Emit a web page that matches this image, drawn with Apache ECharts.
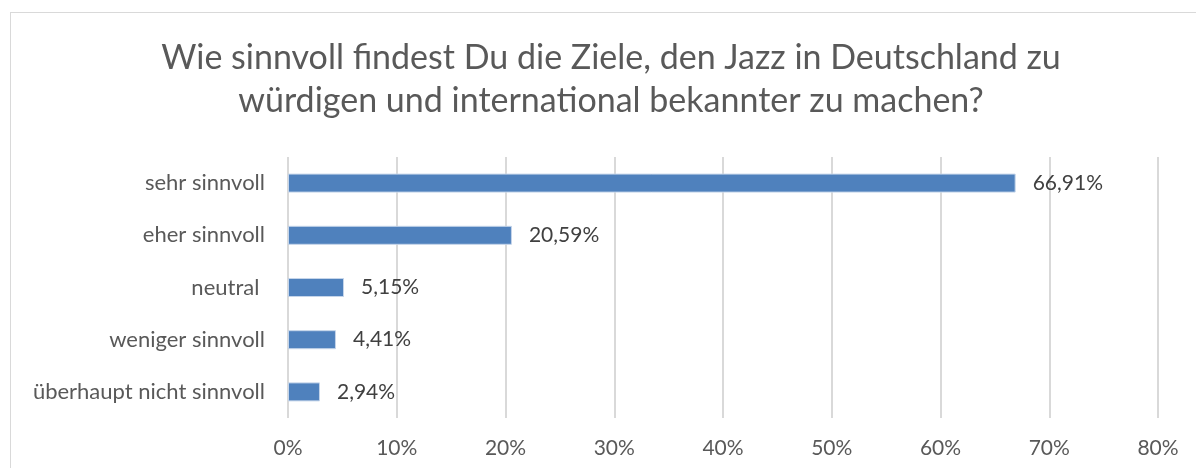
<!DOCTYPE html>
<html>
<head>
<meta charset="utf-8">
<script src="https://cdn.jsdelivr.net/npm/echarts@6/dist/echarts.min.js"></script>
<style>
  body { margin: 0; background: #ffffff; }
  #frame { position: absolute; left: 10px; top: 12px; width: 1200px; height: 470px; border: 1px solid #d9d9d9; box-sizing: border-box; }
  #chart { position: absolute; left: 0; top: 0; width: 1196px; height: 468px; }
</style>
</head>
<body>
<div id="frame"></div>
<div id="chart"></div>
<script>
var categories = ['sehr sinnvoll', 'eher sinnvoll', 'neutral ', 'weniger sinnvoll', 'überhaupt nicht sinnvoll']
var shares = [66.91, 20.59, 5.15, 4.41, 2.94]
var titleText = 'Wie sinnvoll findest Du die Ziele, den Jazz in Deutschland zu\nwürdigen und international bekannter zu machen?'

var font = 'Lato, "Open Sans", sans-serif'

var option = {
    animation: false,
    title: {
        text: titleText,
        left: 611,
        top: 37,
        textAlign: 'center',
        padding: 0,
        textStyle: {
            fontFamily: font,
            fontSize: 34,
            fontWeight: 'normal',
            color: '#595959',
            lineHeight: 43
        }
    },
    grid: {
        left: 288,
        right: 38,
        top: 157,
        bottom: 50
    },
    xAxis: {
        type: 'value',
        min: 0,
        max: 80,
        interval: 10,
        axisLine: { show: false },
        axisTick: { show: false },
        splitLine: { lineStyle: { color: '#d9d9d9', width: 2 } },
        axisLabel: {
            formatter: '{value}%',
            fontFamily: font,
            fontSize: 21,
            color: '#595959',
            margin: 20
        }
    },
    yAxis: {
        type: 'category',
        data: categories,
        inverse: true,
        axisLine: { show: false },
        axisTick: { show: false },
        axisLabel: {
            fontFamily: font,
            fontSize: 22,
            color: '#595959',
            margin: 23
        }
    },
    series: [{
        type: 'bar',
        data: shares,
        barWidth: 19,
        itemStyle: { color: '#4f81bd', borderColor: '#c5d5ea', borderWidth: 1 },
        label: {
            show: true,
            position: 'right',
            distance: 17,
            fontFamily: font,
            fontSize: 21,
            color: '#404040',
            formatter: function (p) {
                return p.value.toFixed(2).replace('.', ',') + '%'
            }
        }
    }]
}

var chart = echarts.init(document.getElementById('chart'))
chart.setOption(option)
</script>
</body>
</html>
